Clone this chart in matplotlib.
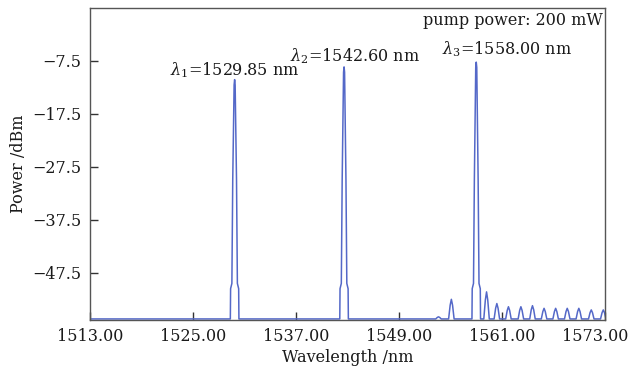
import matplotlib
matplotlib.use('Agg')
import matplotlib.pyplot as plt
import matplotlib.transforms as mtransforms
import numpy as np

plt.rcParams['font.family'] = ['DejaVu Serif']
plt.rcParams['mathtext.fontset'] = 'dejavuserif'

# laser lines: centre (nm), top (dBm)
main_c = [1529.85, 1542.60, 1558.00]
main_p = [-11.1, -8.7, -7.8]
# weak side lines (centre nm, top dBm)
side_c = [1553.6, 1555.1, 1559.2, 1560.4, 1561.75, 1563.2, 1564.55, 1565.9,
          1567.25, 1568.6, 1569.95, 1571.4, 1572.8]
side_p = [-55.8, -52.5, -51.1, -53.3, -53.9, -53.9, -53.7, -54.2,
          -54.2, -54.2, -54.2, -54.5, -54.5]
floor = -56.2

xticks = [1513, 1525, 1537, 1549, 1561, 1573]
yticks = [-7.5, -17.5, -27.5, -37.5, -47.5]

# build spectrum trace from the peak list
peaks = sorted([(c, p, 'm') for c, p in zip(main_c, main_p)] +
               [(c, p, 's') for c, p in zip(side_c, side_p)])
wl = [1513.0]
pw = [floor]
for c, p, kind in peaks:
    if kind == 'm':
        dx = [-0.50, -0.47, -0.32, -0.22, -0.06, 0.0, 0.06, 0.22, 0.32, 0.47, 0.50]
        dy = [floor, -50.5, -49.5, -30.0, p - 1.0, p, p - 1.0, -30.0, -49.5, -50.5, floor]
    else:
        dx = [-0.32, -0.14, 0.0, 0.14, 0.32]
        dy = [floor, p + (floor - p) * 0.3, p, p + (floor - p) * 0.3, floor]
    wl += [c + d for d in dx]
    pw += dy
wl.append(1573.5)
pw.append(floor)

fig = plt.figure(figsize=(6.3, 3.75), dpi=100)
ax = fig.add_axes([90/630, 1-320/375, 515/630, 312/375])
ax.plot(wl, pw, color='#5468c8', lw=1.1)
ax.set_xlim(1513, 1573)
ax.set_ylim(-56.4, 2.4)
ax.set_xticks(xticks)
ax.set_xticklabels(['%.2f' % v for v in xticks])
ax.set_yticks(yticks)
ax.set_yticklabels(['\u2212%.1f' % -v for v in yticks])
ax.tick_params(direction='in', length=6, width=1, color='#333333',
               labelsize=11.5, labelcolor='#1a1a1a', pad=6)
for s in ax.spines.values():
    s.set_color('#555555')
    s.set_linewidth(1)
ax.set_xlabel('Wavelength /nm', fontsize=11.5, color='#1a1a1a', labelpad=3)
ax.set_ylabel('Power /dBm', fontsize=11.5, color='#1a1a1a', labelpad=4)

# pull the last x label in so it stays inside the figure
last = ax.get_xticklabels()[-1]
last.set_transform(last.get_transform() +
                   mtransforms.ScaledTranslation(-10/100, 0, fig.dpi_scale_trans))

tc = '#1a1a1a'
ax.text(1522.3, -10.2, r'$\lambda_1$=1529.85 nm', fontsize=11.5, color=tc, va='baseline')
ax.text(1536.3, -7.7, r'$\lambda_2$=1542.60 nm', fontsize=11.5, color=tc, va='baseline')
ax.text(1554.0, -6.4, r'$\lambda_3$=1558.00 nm', fontsize=11.5, color=tc, va='baseline')
ax.text(1572.7, -0.76, 'pump power: 200 mW', fontsize=11.5, color=tc, va='baseline', ha='right')

fig.savefig('out.png', dpi=100)
